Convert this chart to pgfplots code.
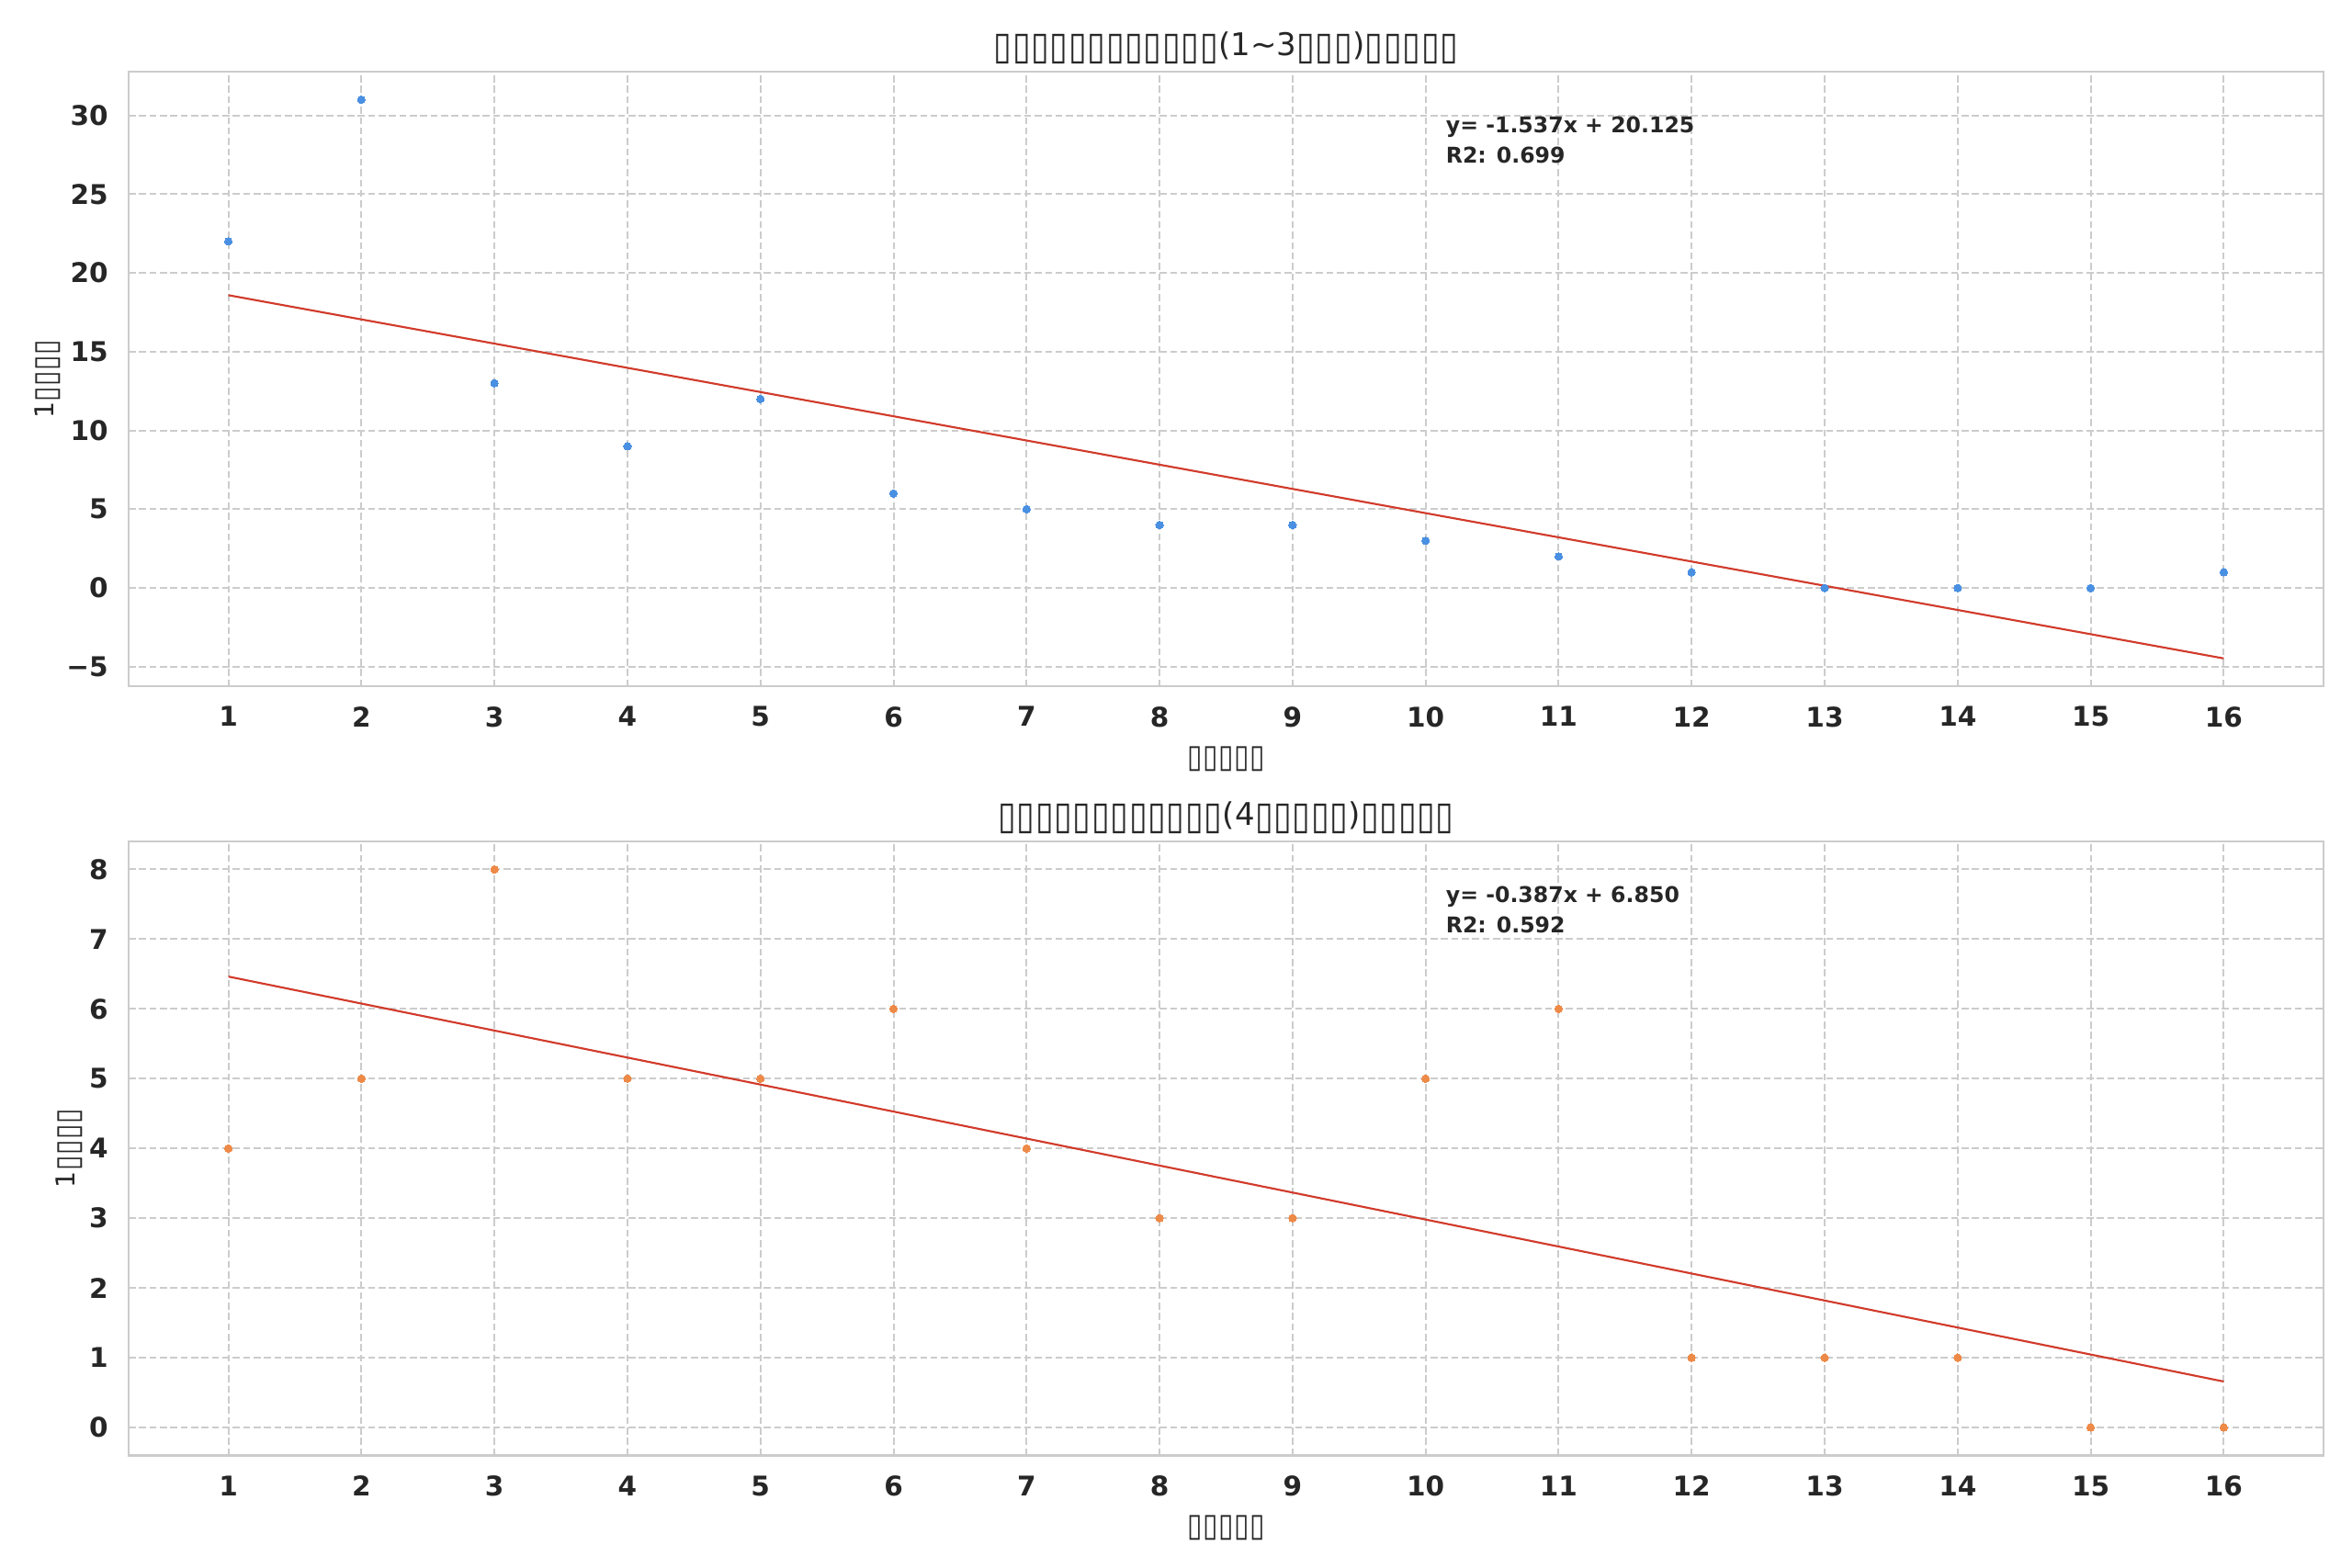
\documentclass[border=0pt]{standalone}
\usepackage{pgfplots}
\pgfplotsset{compat=1.18}
\usepackage{fontspec}
\setmainfont{DejaVu Sans}
\usepackage{graphicx}

\definecolor{txt}{HTML}{262626}
\definecolor{gridc}{HTML}{CCCCCC}
\definecolor{framec}{HTML}{CCCCCC}
\definecolor{ptblue}{HTML}{4A90E2}
\definecolor{ptorange}{HTML}{EE8A48}
\definecolor{fitred}{HTML}{D13B2B}

\newcommand{\tofu}{\makebox[0.6em][c]{\raisebox{-0.12em}{\resizebox*{0.58em}{0.95em}{▯}}}}
\newcommand{\tfive}{\tofu\tofu\tofu\tofu\tofu}

\tikzset{ann/.style={anchor=base west, inner sep=0pt, font=\fontsize{10}{12}\selectfont\bfseries, text=txt}}

\pgfplotsset{
  mystyle/.style={
    scale only axis, width=1011.6pt, anchor=south west,
    xmin=0.25, xmax=16.75,
    xtick={1,2,3,4,5,6,7,8,9,10,11,12,13,14,15,16},
    xticklabels={1,2,3,4,5,6,7,8,9,10,11,12,13,14,15,16},
    axis line style={draw=framec, line width=1.1pt},
    major tick length=0pt,
    xmajorgrids, ymajorgrids,
    major grid style={draw=gridc, line width=0.85pt, dash pattern=on 3.2pt off 1.6pt},
    tick label style={font=\fontsize{12.5}{15}\selectfont\bfseries, text=txt, inner sep=0pt},
    xticklabel style={anchor=north, yshift=-9.2pt},
    yticklabel style={anchor=east, xshift=-9.3pt},
    every axis title shift=0pt,
    title style={font=\fontsize{14.4}{17}\selectfont, text=txt, at={(rel axis cs:0.5,1)}, anchor=base, yshift=7.3pt, inner sep=0pt},
    xlabel style={font=\fontsize{12}{14}\selectfont, text=txt, at={(rel axis cs:0.5,-0.1267)}, anchor=base, inner sep=0pt},
    ylabel style={font=\fontsize{12}{14}\selectfont, text=txt, anchor=base, inner sep=0pt},
    xlabel={\tfive},
    ylabel={1\tofu\tofu\tofu\tofu},
  },
}

\begin{document}
\begin{tikzpicture}
\path[use as bounding box] (0,0) rectangle (1084.05pt,722.8pt);

\begin{axis}[mystyle, at={(59.3pt,406.4pt)}, height=283.3pt,
  ymin=-6.24, ymax=32.77,
  ytick={-5,0,5,10,15,20,25,30},
  yticklabels={−5,0,5,10,15,20,25,30},
  ylabel style={at={(rel axis cs:-0.0343,0.5)}},
  title={\tfive\tfive\tofu\tofu(1\textasciitilde3\tofu\tofu\tofu)\tfive}]
\addplot[only marks, mark=*, mark size=1.75pt, color=ptblue, mark options={draw=ptblue, fill=ptblue, line width=0pt}]
  coordinates {(1,22) (2,31) (3,13) (4,9) (5,12) (6,6) (7,5) (8,4) (9,4) (10,3) (11,2) (12,1) (13,0) (14,0) (15,0) (16,1)};
\addplot[fitred, line width=0.9pt] coordinates {(1,18.588) (16,-4.467)};
\node[ann] at (rel axis cs:0.6,0.9005) {y= -1.537x + 20.125};
\node[ann] at (rel axis cs:0.6,0.8517) {R2: 0.699};
\end{axis}

\begin{axis}[mystyle, at={(59.3pt,51.9pt)}, height=283.0pt,
  ymin=-0.4, ymax=8.4,
  ytick={0,1,2,3,4,5,6,7,8},
  yticklabels={0,1,2,3,4,5,6,7,8},
  ylabel style={at={(rel axis cs:-0.0243,0.5)}},
  title={\tfive\tfive\tofu\tofu(4\tfive)\tfive}]
\addplot[only marks, mark=*, mark size=1.75pt, color=ptorange, mark options={draw=ptorange, fill=ptorange, line width=0pt}]
  coordinates {(1,4) (2,5) (3,8) (4,5) (5,5) (6,6) (7,4) (8,3) (9,3) (10,5) (11,6) (12,1) (13,1) (14,1) (15,0) (16,0)};
\addplot[fitred, line width=0.9pt] coordinates {(1,6.463) (16,0.658)};
\node[ann] at (rel axis cs:0.6,0.9004) {y= -0.387x + 6.850};
\node[ann] at (rel axis cs:0.6,0.8516) {R2: 0.592};
\end{axis}
\end{tikzpicture}
\end{document}
